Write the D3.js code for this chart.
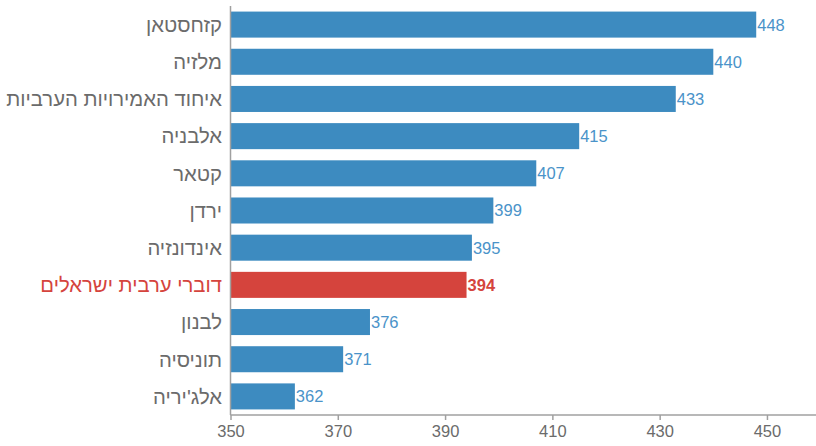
<!DOCTYPE html>
<html>
<head>
<meta charset="utf-8">
<script src="https://cdn.jsdelivr.net/npm/d3@7"></script>
<style>
  body { margin: 0; background: #fff; }
  text { font-family: "Liberation Sans", Arial, sans-serif; }
</style>
</head>
<body>
<div id="chart"></div>
<script>
// data
const countries = ["קזחסטאן", "מלזיה", "איחוד האמירויות הערביות", "אלבניה", "קטאר", "ירדן",
  "אינדונזיה", "דוברי ערבית ישראלים", "לבנון", "תוניסיה", "אלג'יריה"];
const scores = [448, 440, 433, 415, 407, 399, 395, 394, 376, 371, 362];
const highlight = "דוברי ערבית ישראלים";
const xTicks = [350, 370, 390, 410, 430, 450];

const W = 816, H = 446;
const blue = "#3d8bc0", red = "#d5443d";

const data = countries.map((c, i) => ({ name: c, value: scores[i] }));

const svg = d3.select("#chart").append("svg")
  .attr("width", W).attr("height", H);

// scales
const x = d3.scaleLinear().domain([350, 460]).range([230.5, 820.6]);
const y = d3.scaleBand()
  .domain(countries)
  .range([6, 415])
  .paddingInner(0.3)
  .paddingOuter(0.15);

// bars
svg.append("g")
  .selectAll("rect")
  .data(data)
  .join("rect")
  .attr("x", x(350))
  .attr("y", d => y(d.name))
  .attr("width", d => x(d.value) - x(350))
  .attr("height", y.bandwidth())
  .attr("fill", d => d.name === highlight ? red : blue);

// value labels
svg.append("g")
  .selectAll("text")
  .data(data)
  .join("text")
  .attr("x", d => x(d.value) + 1)
  .attr("y", d => y(d.name) + y.bandwidth() / 2)
  .attr("dy", "0.36em")
  .attr("font-size", 16.5)
  .attr("font-weight", d => d.name === highlight ? "bold" : "normal")
  .attr("fill", d => d.name === highlight ? red : "#4a93c9")
  .text(d => d.value);

// x axis
const xAxis = svg.append("g")
  .attr("transform", "translate(0,415)")
  .call(d3.axisBottom(x).tickValues(xTicks).tickSize(5).tickPadding(5));
xAxis.select(".domain").attr("stroke", "#a0a0a0").attr("stroke-width", 1.5)
  .attr("d", "M230.5,0H816");
xAxis.selectAll(".tick line").attr("stroke", "#a0a0a0").attr("stroke-width", 1.5);
xAxis.selectAll(".tick text")
  .attr("font-size", 16.5)
  .attr("fill", "#6b6b6b")
  .style("font-family", "'Liberation Sans', Arial, sans-serif");

// y axis line + category labels
svg.append("line")
  .attr("x1", 230.5).attr("x2", 230.5)
  .attr("y1", 6).attr("y2", 415)
  .attr("stroke", "#a0a0a0").attr("stroke-width", 1.5);

svg.append("g")
  .selectAll("text")
  .data(data)
  .join("text")
  .attr("x", 222)
  .attr("y", d => y(d.name) + y.bandwidth() / 2)
  .attr("dy", "0.36em")
  .attr("text-anchor", "end")
  .attr("font-size", 20.3)
  .attr("fill", d => d.name === highlight ? red : "#6b6b6b")
  .text(d => d.name);
</script>
</body>
</html>
